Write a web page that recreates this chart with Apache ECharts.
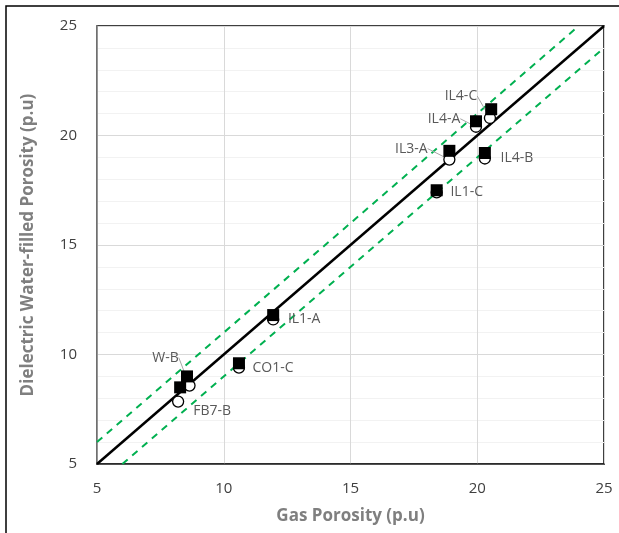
<!DOCTYPE html>
<html>
<head>
<meta charset="utf-8">
<script src="https://cdn.jsdelivr.net/npm/echarts@6/dist/echarts.min.js"></script>
<style>
  html, body { margin: 0; padding: 0; background: #fff; }
  #chart { width: 619px; height: 533px; }
</style>
</head>
<body>
<div id="chart"></div>
<script>
// sample names and readings
const sampleNames = ['IL4-C', 'IL4-A', 'IL3-A', 'IL4-B', 'IL1-C', 'IL1-A', 'CO1-C', 'W-B', 'FB7-B']
const squareGas = [20.55, 19.95, 18.9, 20.3, 18.4, 11.95, 10.6, 8.55, 8.28]
const squareDielectric = [21.2, 20.65, 19.3, 19.2, 17.5, 11.8, 9.6, 9.0, 8.5]
const circleGas = [20.5, 19.95, 18.9, 20.3, 18.4, 11.95, 10.6, 8.65, 8.2]
const circleDielectric = [20.8, 20.4, 18.9, 18.95, 17.4, 11.6, 9.4, 8.58, 7.85]
// reference lines: 1:1 and +/- 1 p.u.
const oneToOne = [[5, 5], [25, 25]]
const upperBand = [[5, 6], [24, 25]]
const lowerBand = [[6, 5], [25, 24]]
const xTicks = [5, 10, 15, 20, 25]
const yTicks = [5, 10, 15, 20, 25]

// label offsets (pixels from the circle marker) and whether a leader line is drawn
const labelOffsets = [[-29, -22, true], [-32, -8, true], [-38, -11, true], [32, 0, false], [30, 0, false],
  [31, 0, false], [34, 0, false], [-24, -28, true], [34, 9, false]]

const chart = echarts.init(document.getElementById('chart'))

const labelColor = '#595959'

chart.setOption({
  animation: false,
  textStyle: { fontFamily: 'Open Sans' },
  graphic: [
    {
      type: 'rect',
      shape: { x: 6, y: 6, width: 640, height: 560 },
      style: { fill: 'none', stroke: '#000', lineWidth: 1.5 },
      z: 0
    }
  ],
  grid: {
    left: 97,
    right: 15,
    top: 26,
    bottom: 69,
    show: true,
    borderColor: '#000',
    borderWidth: 1.5
  },
  xAxis: {
    type: 'value',
    min: xTicks[0],
    max: xTicks[xTicks.length - 1],
    interval: 5,
    name: 'Gas Porosity (p.u)',
    nameLocation: 'middle',
    nameGap: 44,
    nameTextStyle: { fontSize: 17, fontWeight: 'bold', color: '#7f7f7f' },
    axisLine: { show: true, lineStyle: { color: '#262626', width: 1.5 } },
    axisTick: { show: false },
    axisLabel: { fontSize: 15, color: '#404040', margin: 17 },
    splitLine: { show: true, lineStyle: { color: '#d9d9d9', width: 1 } }
  },
  yAxis: {
    type: 'value',
    min: yTicks[0],
    max: yTicks[yTicks.length - 1],
    interval: 5,
    name: 'Dielectric Water-filled Porosity (p.u)',
    nameLocation: 'middle',
    nameGap: 60,
    nameTextStyle: { fontSize: 17, fontWeight: 'bold', color: '#7f7f7f' },
    axisLine: { show: true, lineStyle: { color: '#7f7f7f', width: 1.5 } },
    axisTick: { show: false },
    axisLabel: { fontSize: 15, color: '#404040', margin: 20 },
    splitLine: { show: true, lineStyle: { color: '#d9d9d9', width: 1 } },
    minorTick: { show: false, splitNumber: 5 },
    minorSplitLine: { show: true, lineStyle: { color: '#f2f2f2', width: 1 } }
  },
  series: [
    {
      type: 'line',
      data: upperBand,
      symbol: 'none',
      lineStyle: { color: '#00b050', width: 2, type: [7, 6] },
      z: 2
    },
    {
      type: 'line',
      data: lowerBand,
      symbol: 'none',
      lineStyle: { color: '#00b050', width: 2, type: [7, 6] },
      z: 2
    },
    {
      type: 'line',
      data: oneToOne,
      symbol: 'none',
      lineStyle: { color: '#000', width: 2.5 },
      z: 3
    },
    {
      type: 'scatter',
      symbol: 'circle',
      symbolSize: 11,
      itemStyle: { color: '#fff', borderColor: '#000', borderWidth: 1.3, opacity: 1 },
      data: circleGas.map((g, i) => ({
        value: [g, circleDielectric[i]],
        name: sampleNames[i],
        labelLine: { show: labelOffsets[i][2] }
      })),
      label: {
        show: true,
        position: 'inside',
        formatter: '{b}',
        fontSize: 14,
        color: labelColor
      },
      labelLine: { show: false, lineStyle: { color: '#a6a6a6', width: 1 } },
      labelLayout: (p) => ({ dx: labelOffsets[p.dataIndex][0], dy: labelOffsets[p.dataIndex][1] }),
      z: 4
    },
    {
      type: 'scatter',
      symbol: 'rect',
      symbolSize: 12,
      itemStyle: { color: '#000', opacity: 1 },
      data: squareGas.map((g, i) => [g, squareDielectric[i]]),
      z: 5
    }
  ]
})
</script>
</body>
</html>
